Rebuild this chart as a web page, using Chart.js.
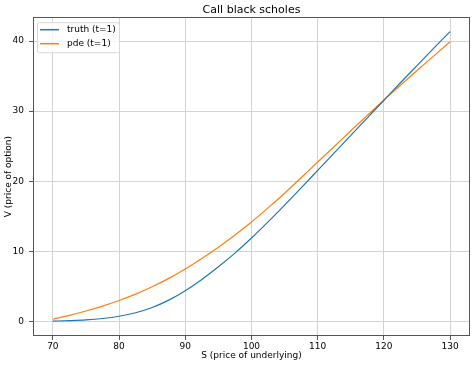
<!DOCTYPE html>
<html>
<head>
<meta charset="utf-8">
<script src="https://cdn.jsdelivr.net/npm/chart.js@4.4.1/dist/chart.umd.min.js"></script>
<style>
  html, body { margin: 0; padding: 0; background: #fff; }
</style>
</head>
<body>
<canvas id="chart" width="474" height="366"></canvas>
<script>
// price of underlying, every 2.5
const prices = [70, 72.5, 75, 77.5, 80, 82.5, 85, 87.5, 90, 92.5, 95, 97.5, 100,
  102.5, 105, 107.5, 110, 112.5, 115, 117.5, 120, 122.5, 125, 127.5, 130];
const truth = [0.05, 0.12, 0.23, 0.43, 0.75, 1.25, 2.0, 3.05, 4.4, 6.0, 7.8, 9.75, 11.9,
  14.2, 16.6, 19.05, 21.55, 24.05, 26.55, 29.05, 31.55, 34.05, 36.5, 38.95, 41.35];
const pde = [0.32, 0.88, 1.5, 2.2, 3.0, 3.9, 4.95, 6.15, 7.5, 9.0, 10.6, 12.35, 14.2,
  16.2, 18.3, 20.5, 22.75, 24.95, 27.2, 29.4, 31.6, 33.7, 35.8, 37.85, 39.9];
const xTicks = [70, 80, 90, 100, 110, 120, 130];
const yTicks = [0, 10, 20, 30, 40];

Chart.defaults.font.family = 'DejaVu Sans';
Chart.defaults.color = '#000';

// box round the plot + legend in upper left, like matplotlib
const frameLegend = {
  id: 'frameLegend',
  afterDraw(chart) {
    const ctx = chart.ctx;
    const a = chart.chartArea;
    ctx.save();
    ctx.strokeStyle = '#555';
    ctx.lineWidth = 1;
    ctx.strokeRect(Math.round(a.left) + 0.5, Math.round(a.top) + 0.5,
      Math.round(a.right - a.left) - 1, Math.round(a.bottom - a.top) - 1);

    const bx = a.left + 4, by = a.top + 5, bw = 82, bh = 30;
    ctx.fillStyle = 'rgba(255,255,255,0.8)';
    ctx.strokeStyle = '#d8d8d8';
    ctx.beginPath();
    ctx.roundRect(bx + 0.5, by + 0.5, bw, bh, 2);
    ctx.fill();
    ctx.stroke();

    ctx.font = '9px "DejaVu Sans"';
    ctx.textBaseline = 'middle';
    chart.data.datasets.forEach((ds, i) => {
      const y = by + 7.5 + i * 14;
      ctx.strokeStyle = ds.borderColor;
      ctx.lineWidth = 1.5;
      ctx.beginPath();
      ctx.moveTo(bx + 3, y);
      ctx.lineTo(bx + 22, y);
      ctx.stroke();
      ctx.fillStyle = '#000';
      ctx.fillText(ds.label, bx + 30, y);
    });
    ctx.restore();
  }
};

const ctx = document.getElementById('chart').getContext('2d');
new Chart(ctx, {
  type: 'line',
  data: {
    datasets: [
      {
        label: 'truth (t=1)',
        data: prices.map((s, i) => ({ x: s, y: truth[i] })),
        borderColor: '#1f77b4',
        borderWidth: 1.2,
        pointRadius: 0,
        cubicInterpolationMode: 'monotone',
        fill: false
      },
      {
        label: 'pde (t=1)',
        data: prices.map((s, i) => ({ x: s, y: pde[i] })),
        borderColor: '#ff7f0e',
        borderWidth: 1.2,
        pointRadius: 0,
        cubicInterpolationMode: 'monotone',
        fill: false
      }
    ]
  },
  options: {
    responsive: false,
    animation: false,
    devicePixelRatio: 1,
    layout: { padding: { left: 0, right: 4, top: 0, bottom: 0 } },
    plugins: {
      legend: { display: false },
      tooltip: { enabled: false },
      title: {
        display: true,
        text: 'Call black scholes',
        fullSize: false,
        font: { size: 11, weight: 'normal' },
        padding: { top: 4, bottom: 0 }
      }
    },
    scales: {
      x: {
        type: 'linear',
        min: 67,
        max: 133,
        afterBuildTicks: (s) => { s.ticks = xTicks.map(v => ({ value: v })); },
        afterFit: (s) => { s.height = 30; },
        ticks: { font: { size: 9 }, padding: 1, maxRotation: 0, autoSkip: false },
        grid: { color: '#d3d3d3', tickLength: 4, tickColor: '#555' },
        border: { display: false },
        title: { display: true, text: 'S (price of underlying)', font: { size: 9 }, padding: { top: 0, bottom: 4.5 } }
      },
      y: {
        min: -2.07,
        max: 43.4,
        afterBuildTicks: (s) => { s.ticks = yTicks.map(v => ({ value: v })); },
        afterFit: (s) => { s.width = 33; },
        ticks: { font: { size: 9 }, padding: 5 },
        grid: { color: '#d3d3d3', tickLength: 4, tickColor: '#555' },
        border: { display: false },
        title: { display: true, text: 'V (price of option)', font: { size: 9 }, padding: { top: 3.5, bottom: 0 } }
      }
    }
  },
  plugins: [frameLegend]
});
</script>
</body>
</html>
